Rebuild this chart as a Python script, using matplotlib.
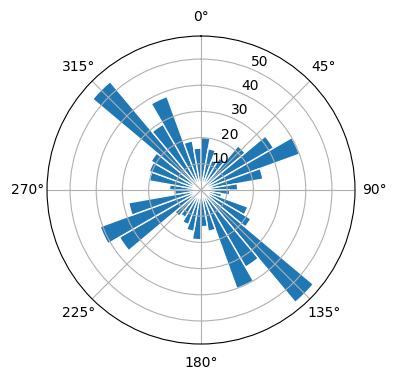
import numpy as np
import matplotlib
matplotlib.use("Agg")
import matplotlib.pyplot as plt

# direction bins (degrees, bin centres) and counts
directions = np.arange(5, 360, 10)
counts = [20, 16, 12, 14, 22, 32, 40, 24, 14,
          11, 8, 19, 22, 56, 34, 40, 16, 14,
          19, 16, 14, 12, 13, 36, 41, 28, 10,
          12, 20, 21, 22, 54, 29, 38, 19, 16]

fig = plt.figure(figsize=(3.96, 3.8), dpi=100)
ax = fig.add_axes([0.1187, 0.0947, 0.7778, 0.8105], projection='polar')
ax.set_theta_zero_location('N')
ax.set_theta_direction(-1)
ax.bar(np.deg2rad(directions), counts, width=np.deg2rad(10),
       color='#1f77b4', edgecolor='white', linewidth=1)
fig.savefig('out.png', dpi=100)
